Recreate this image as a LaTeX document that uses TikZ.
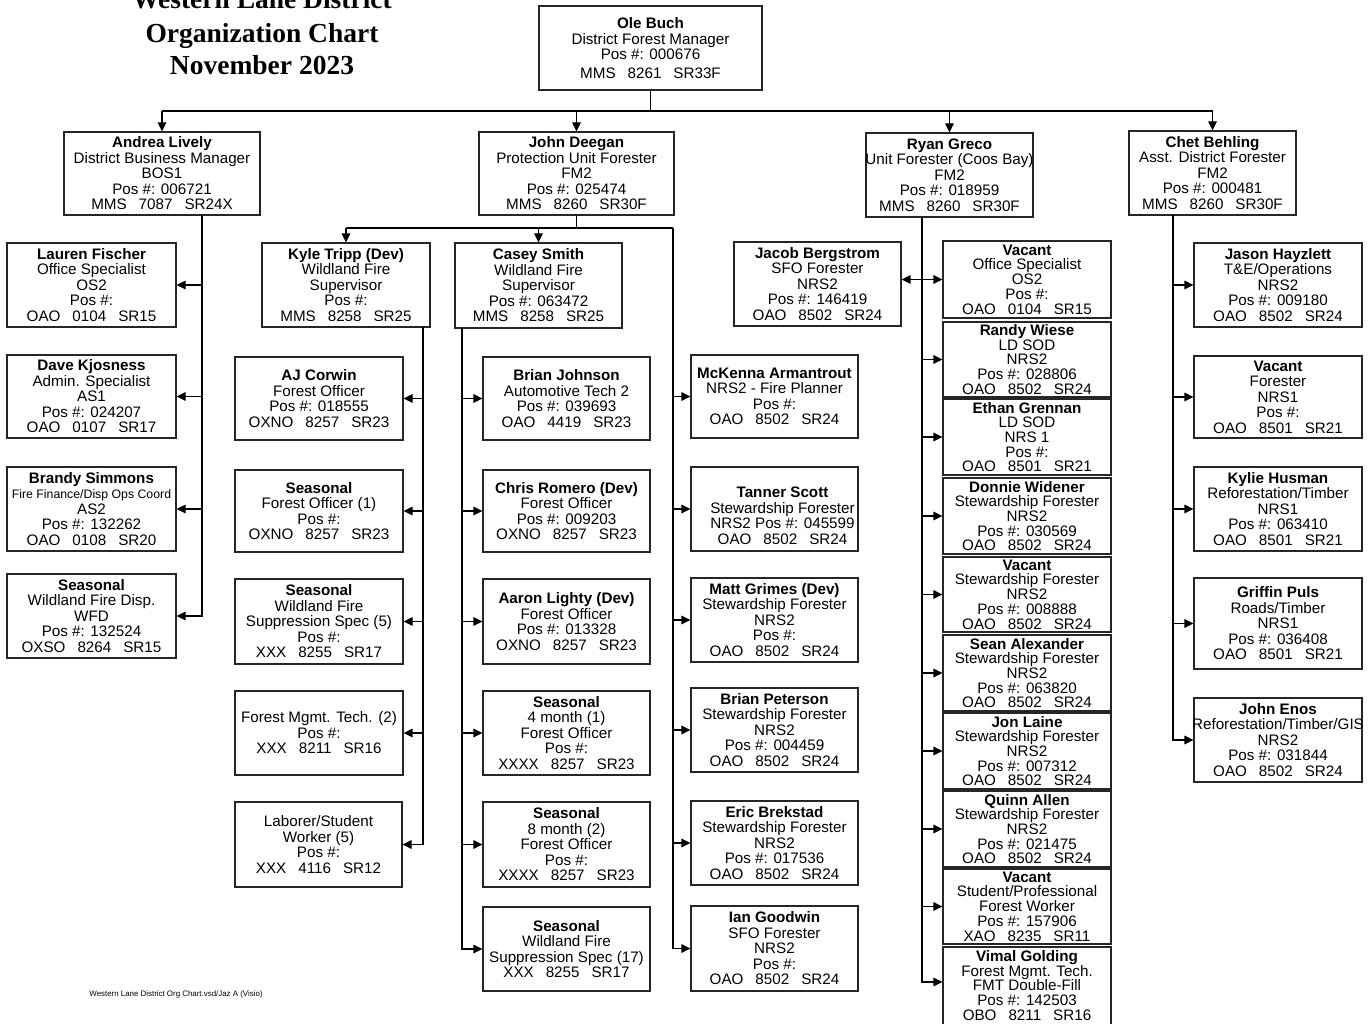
\documentclass[tikz,border=0pt]{standalone}
\usepackage{fontspec}
\setmainfont{Liberation Sans}
\newfontfamily\ttlfont{Liberation Serif}
\usetikzlibrary{arrows.meta,calc}
\newcommand\gp{\hspace{12pt}}
\newcommand\obox[7][]{%
  \node[boxst, minimum width={#5-#3}, minimum height={#6-#4}] (#2) at ({(#3+#5)/2},{(#4+#6)/2}) {};
  \node[txt,#1] (#2-t) at (#2.center) {#7};}
\tikzset{
  boxst/.style={draw=black!85, line width=1.1pt, inner sep=0pt},
  txt/.style={align=center, inner sep=0pt, font=\fontsize{15.2}{15.5}\selectfont},
  tight/.style={font=\fontsize{15.2}{14.7}\selectfont},
  conn/.style={line width=1.1pt, black},
  arr/.style={conn, -{Triangle[length=9pt,width=8.5pt]}},
  ttl/.style={anchor=base, inner sep=0pt, font=\ttlfont\bfseries\fontsize{27.5}{32}\selectfont}
}
\begin{document}
\begin{tikzpicture}[x=1pt,y=-1pt]
\useasboundingbox (0,0) rectangle (1369,1024);
\clip (0,0) rectangle (1369,1024);
% title
\node[ttl] (t1) at (262,9) {Western Lane District};
\node[ttl] (t2) at (262,43) {Organization Chart};
\node[ttl] (t3) at (262,75) {November 2023};
\node[inner sep=0pt, font=\fontsize{7.9}{8}\selectfont] (foot) at (176,994) {Western Lane District Org Chart.vsd/Jaz A (Visio)};
% top
\obox{ole}{539}{6}{762}{90}{\textbf{Ole Buch}\\District Forest Manager\\Pos \#: 000676\\[3pt]MMS\gp 8261\gp SR33F}
% level 2
\obox{andrea}{64}{132}{260}{215}{\textbf{Andrea Lively}\\District Business Manager\\BOS1\\Pos \#: 006721\\MMS\gp 7087\gp SR24X}
\obox{deegan}{479}{132}{674}{215}{\textbf{John Deegan}\\Protection Unit Forester\\FM2\\Pos \#: 025474\\MMS\gp 8260\gp SR30F}
\obox{ryan}{866}{133}{1033}{217}{\textbf{Ryan Greco}\\Unit Forester (Coos Bay)\\FM2\\Pos \#: 018959\\MMS\gp 8260\gp SR30F}
\obox{chet}{1129}{131}{1296}{215}{\textbf{Chet Behling}\\Asst. District Forester\\FM2\\Pos \#: 000481\\MMS\gp 8260\gp SR30F}
% Andrea column
\obox{lauren}{7}{243}{176}{327}{\textbf{Lauren Fischer}\\Office Specialist\\OS2\\Pos \#:\\OAO\gp 0104\gp SR15}
\obox{dave}{7}{355}{176}{438}{\textbf{Dave Kjosness}\\Admin. Specialist\\AS1\\Pos \#: 024207\\OAO\gp 0107\gp SR17}
\obox{brandy}{7}{467}{176}{551}{\textbf{Brandy Simmons}\\{\fontsize{12.3}{13}\selectfont Fire Finance/Disp Ops Coord}\\AS2\\Pos \#: 132262\\OAO\gp 0108\gp SR20}
\obox{wfd}{7}{574}{176}{658}{\textbf{Seasonal}\\Wildland Fire Disp.\\WFD\\Pos \#: 132524\\OXSO\gp 8264\gp SR15}
% Kyle column
\obox{kyle}{262}{243}{430}{327}{\textbf{Kyle Tripp (Dev)}\\Wildland Fire\\Supervisor\\Pos \#:\\MMS\gp 8258\gp SR25}
\obox{aj}{235}{357}{403}{440}{\textbf{AJ Corwin}\\Forest Officer\\Pos \#: 018555\\OXNO\gp 8257\gp SR23}
\obox{sfoa}{235}{470}{403}{552}{\textbf{Seasonal}\\Forest Officer (1)\\Pos \#:\\OXNO\gp 8257\gp SR23}
\obox{swfa}{235}{579}{403}{664}{\textbf{Seasonal}\\Wildland Fire\\Suppression Spec (5)\\Pos \#:\\XXX\gp 8255\gp SR17}
\obox{fmta}{235}{691}{403}{775}{Forest Mgmt. Tech. (2)\\Pos \#:\\XXX\gp 8211\gp SR16}
\obox{labr}{235}{802}{402}{887}{Laborer/Student\\Worker (5)\\Pos \#:\\XXX\gp 4116\gp SR12}
% Casey column
\obox{casey}{455}{243}{622}{328}{\textbf{Casey Smith}\\Wildland Fire\\Supervisor\\Pos \#: 063472\\MMS\gp 8258\gp SR25}
\obox{bj}{483}{357}{650}{440}{\textbf{Brian Johnson}\\Automotive Tech 2\\Pos \#: 039693\\OAO\gp 4419\gp SR23}
\obox{cr}{483}{470}{650}{552}{\textbf{Chris Romero (Dev)}\\Forest Officer\\Pos \#: 009203\\OXNO\gp 8257\gp SR23}
\obox{al}{483}{579}{650}{664}{\textbf{Aaron Lighty (Dev)}\\Forest Officer\\Pos \#: 013328\\OXNO\gp 8257\gp SR23}
\obox{sfour}{483}{691}{650}{775}{\textbf{Seasonal}\\4 month (1)\\Forest Officer\\Pos \#:\\XXXX\gp 8257\gp SR23}
\obox{seight}{483}{802}{650}{887}{\textbf{Seasonal}\\8 month (2)\\Forest Officer\\Pos \#:\\XXXX\gp 8257\gp SR23}
\obox{sseventeen}{483}{907}{650}{991}{\textbf{Seasonal}\\Wildland Fire\\Suppression Spec (17)\\XXX\gp 8255\gp SR17}
% Deegan right column
\obox{jacob}{734}{242}{901}{326}{\textbf{Jacob Bergstrom}\\SFO Forester\\NRS2\\Pos \#: 146419\\OAO\gp 8502\gp SR24}
\obox{mck}{691}{355}{858}{438}{\textbf{McKenna Armantrout}\\NRS2 - Fire Planner\\Pos \#:\\OAO\gp 8502\gp SR24}
\obox[xshift=8pt, yshift=-7pt]{tanner}{691}{467}{858}{551}{\textbf{Tanner Scott}\\Stewardship Forester\\NRS2 Pos \#: 045599\\OAO\gp 8502\gp SR24}
\obox{matt}{691}{578}{858}{662}{\textbf{Matt Grimes (Dev)}\\Stewardship Forester\\NRS2\\Pos \#:\\OAO\gp 8502\gp SR24}
\obox{peterson}{691}{688}{858}{772}{\textbf{Brian Peterson}\\Stewardship Forester\\NRS2\\Pos \#: 004459\\OAO\gp 8502\gp SR24}
\obox{brekstad}{691}{801}{858}{885}{\textbf{Eric Brekstad}\\Stewardship Forester\\NRS2\\Pos \#: 017536\\OAO\gp 8502\gp SR24}
\obox{goodwin}{691}{906}{858}{991}{\textbf{Ian Goodwin}\\SFO Forester\\NRS2\\Pos \#:\\OAO\gp 8502\gp SR24}
% Ryan column
\obox[tight]{vacos}{943}{241}{1111}{318}{\textbf{Vacant}\\Office Specialist\\OS2\\Pos \#:\\OAO\gp 0104\gp SR15}
\obox[tight]{randy}{943}{322}{1111}{397}{\textbf{Randy Wiese}\\LD SOD\\NRS2\\Pos \#: 028806\\OAO\gp 8502\gp SR24}
\obox[tight]{ethan}{943}{399}{1111}{475}{\textbf{Ethan Grennan}\\LD SOD\\NRS 1\\Pos \#:\\OAO\gp 8501\gp SR21}
\obox[tight]{donnie}{943}{478}{1111}{554}{\textbf{Donnie Widener}\\Stewardship Forester\\NRS2\\Pos \#: 030569\\OAO\gp 8502\gp SR24}
\obox[tight]{vacsf}{943}{557}{1111}{632}{\textbf{Vacant}\\Stewardship Forester\\NRS2\\Pos \#: 008888\\OAO\gp 8502\gp SR24}
\obox[tight]{sean}{943}{635}{1111}{711}{\textbf{Sean Alexander}\\Stewardship Forester\\NRS2\\Pos \#: 063820\\OAO\gp 8502\gp SR24}
\obox[tight]{jon}{943}{713}{1111}{789}{\textbf{Jon Laine}\\Stewardship Forester\\NRS2\\Pos \#: 007312\\OAO\gp 8502\gp SR24}
\obox[tight]{quinn}{943}{791}{1111}{867}{\textbf{Quinn Allen}\\Stewardship Forester\\NRS2\\Pos \#: 021475\\OAO\gp 8502\gp SR24}
\obox[tight]{vacst}{943}{869}{1111}{944}{\textbf{Vacant}\\Student/Professional\\Forest Worker\\Pos \#: 157906\\XAO\gp 8235\gp SR11}
\obox[tight, yshift=3pt]{vimal}{943}{947}{1111}{1030}{\textbf{Vimal Golding}\\Forest Mgmt. Tech.\\FMT Double-Fill\\Pos \#: 142503\\OBO\gp 8211\gp SR16}
% Chet column
\obox{jason}{1194}{243}{1362}{327}{\textbf{Jason Hayzlett}\\T\&E/Operations\\NRS2\\Pos \#: 009180\\OAO\gp 8502\gp SR24}
\obox{vacf}{1194}{356}{1362}{438}{\textbf{Vacant}\\Forester\\NRS1\\Pos \#:\\OAO\gp 8501\gp SR21}
\obox{kylie}{1194}{467}{1362}{551}{\textbf{Kylie Husman}\\Reforestation/Timber\\NRS1\\Pos \#: 063410\\OAO\gp 8501\gp SR21}
\obox{griffin}{1194}{578}{1362}{669}{\textbf{Griffin Puls}\\Roads/Timber\\NRS1\\Pos \#: 036408\\OAO\gp 8501\gp SR21}
\obox{enos}{1194}{698}{1362}{782}{\textbf{John Enos}\\Reforestation/Timber/GIS\\NRS2\\Pos \#: 031844\\OAO\gp 8502\gp SR24}
% connectors: top level
\coordinate (topbus) at (650.5,111);
\draw[conn] (ole.south) -- (ole.south |- topbus);
\draw[conn] (andrea.north |- topbus) -- (chet.north |- topbus);
\foreach \n in {andrea,deegan,ryan,chet} \draw[arr] (\n.north |- topbus) -- (\n.north);
% Andrea
\coordinate (aspine) at (202,215);
\draw[arr] (aspine) |- (wfd.east);
\foreach \n in {lauren,dave,brandy} \draw[arr] (aspine |- \n.east) -- (\n.east);
% Deegan
\coordinate (dbus) at (576.5,228);
\coordinate (dright) at (673,228);
\draw[conn] (deegan.south) -- (deegan.south |- dbus);
\draw[conn] (kyle.north |- dbus) -- (dright);
\draw[arr] (kyle.north |- dbus) -- (kyle.north);
\draw[arr] (casey.north |- dbus) -- (casey.north);
\draw[arr] (dright) |- (goodwin.west);
\foreach \n in {mck,tanner,matt,peterson,brekstad} \draw[arr] (dright |- \n.west) -- (\n.west);
% Kyle
\coordinate (kspine) at (423,327);
\draw[arr] (kspine) |- (labr.east);
\foreach \n in {aj,sfoa,swfa,fmta} \draw[arr] (kspine |- \n.east) -- (\n.east);
% Casey
\coordinate (cspine) at (462,328);
\draw[arr] (cspine) |- (sseventeen.west);
\foreach \n in {bj,cr,al,sfour,seight} \draw[arr] (cspine |- \n.west) -- (\n.west);
% Ryan
\coordinate (rspine) at (922,217);
\coordinate (rend) at (922,982);
\draw[arr] (rspine) |- (rend -| vimal.west);
\foreach \n in {vacos,randy,ethan,donnie,vacsf,sean,jon,quinn,vacst} \draw[arr] (rspine |- \n.west) -- (\n.west);
\draw[arr] (rspine |- vacos.west) -- (jacob.east |- vacos.west);
% Chet
\coordinate (chspine) at (1173,215);
\draw[arr] (chspine) |- (enos.west);
\foreach \n in {jason,vacf,kylie,griffin} \draw[arr] (chspine |- \n.west) -- (\n.west);
\end{tikzpicture}
\end{document}
